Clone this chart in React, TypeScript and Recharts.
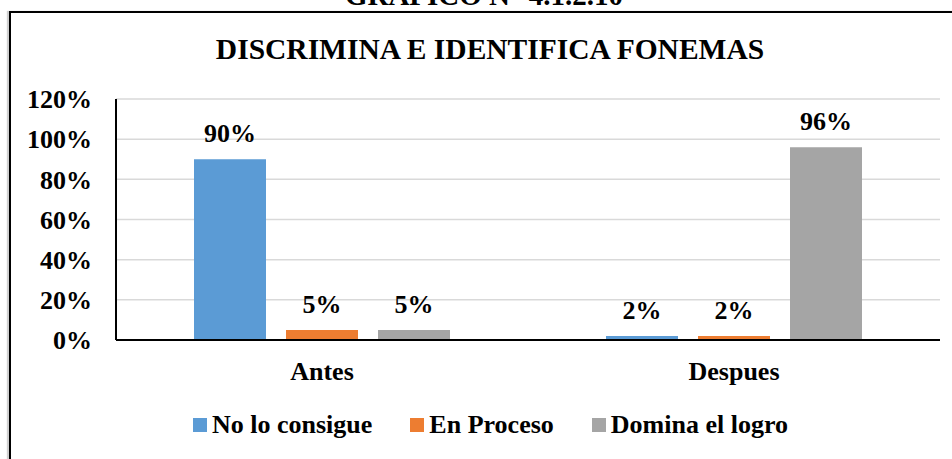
import { Bar, BarChart, CartesianGrid, LabelList, XAxis, YAxis } from 'recharts';

const categories = ['Antes', 'Despues'];
const noLoConsigue = [90, 2];
const enProceso = [5, 2];
const dominaElLogro = [5, 96];
const yTicks = [0, 20, 40, 60, 80, 100, 120];

const series = [
  { key: 'noLoConsigue', name: 'No lo consigue', values: noLoConsigue, color: '#5B9BD5' },
  { key: 'enProceso', name: 'En Proceso', values: enProceso, color: '#ED7D31' },
  { key: 'dominaElLogro', name: 'Domina el logro', values: dominaElLogro, color: '#A5A5A5' },
];

const rows = categories.map((name, i) => {
  const row: Record<string, string | number> = { name };
  series.forEach(s => { row[s.key] = s.values[i]; });
  return row;
});

const serif = 'Liberation Serif, Tinos, Times New Roman, DejaVu Serif';
const tickStyle = { fill: '#000', fontSize: 26, fontWeight: 700, fontFamily: serif };

export default function App() {
  return (
    <div style={{ position: 'absolute', left: 0, top: 0, width: 952, height: 459, overflow: 'hidden', background: '#fff' }}>
      <div
        style={{
          position: 'absolute', left: 9, top: 11, width: 980, height: 480,
          border: '2px solid #000', boxShadow: '-2px 0 1px #d0d0d0',
        }}
      />
      <svg width={952} height={80} style={{ position: 'absolute', left: 0, top: 0 }}>
        <text x={484} y={5} textAnchor="middle" style={{ fontFamily: serif, fontWeight: 700, fontSize: 29 }}>GRAFICO N° 4.1.2.10</text>
        <text x={490} y={59} textAnchor="middle" style={{ fontFamily: serif, fontWeight: 700, fontSize: 29.5 }}>DISCRIMINA E IDENTIFICA FONEMAS</text>
      </svg>
      <div style={{ position: 'absolute', left: 0, top: 0 }}>
        <BarChart
          width={952}
          height={459}
          data={rows}
          margin={{ top: 99, right: 12, bottom: 89, left: 0 }}
          barSize={72}
          barGap={20}
        >
          <CartesianGrid vertical={false} stroke="#d9d9d9" strokeWidth={1.5} />
          <XAxis
            dataKey="name"
            height={30}
            tickLine={false}
            tickSize={0}
            tickMargin={22}
            axisLine={{ stroke: '#000', strokeWidth: 2 }}
            tick={tickStyle}
          />
          <YAxis
            width={116}
            domain={[0, 120]}
            ticks={yTicks}
            tickFormatter={v => `${v}%`}
            tickLine={false}
            tickSize={0}
            tickMargin={24}
            axisLine={{ stroke: '#000', strokeWidth: 2 }}
            tick={tickStyle}
          />
          {series.map(s => (
            <Bar key={s.key} dataKey={s.key} name={s.name} fill={s.color} isAnimationActive={false}>
              <LabelList
                dataKey={s.key}
                position="top"
                offset={17}
                formatter={(v: any) => `${v}%`}
                style={tickStyle}
              />
            </Bar>
          ))}
        </BarChart>
      </div>
      <div
        style={{
          position: 'absolute', left: 193, top: 412, display: 'flex', alignItems: 'center',
          fontFamily: serif, fontWeight: 700, fontSize: 26, lineHeight: '26px', whiteSpace: 'nowrap',
        }}
      >
        {series.map(s => (
          <div key={s.key} style={{ display: 'flex', alignItems: 'center', marginRight: 38 }}>
            <span style={{ display: 'inline-block', width: 14, height: 14, background: s.color, marginRight: 5 }} />
            <span>{s.name}</span>
          </div>
        ))}
      </div>
    </div>
  );
}
